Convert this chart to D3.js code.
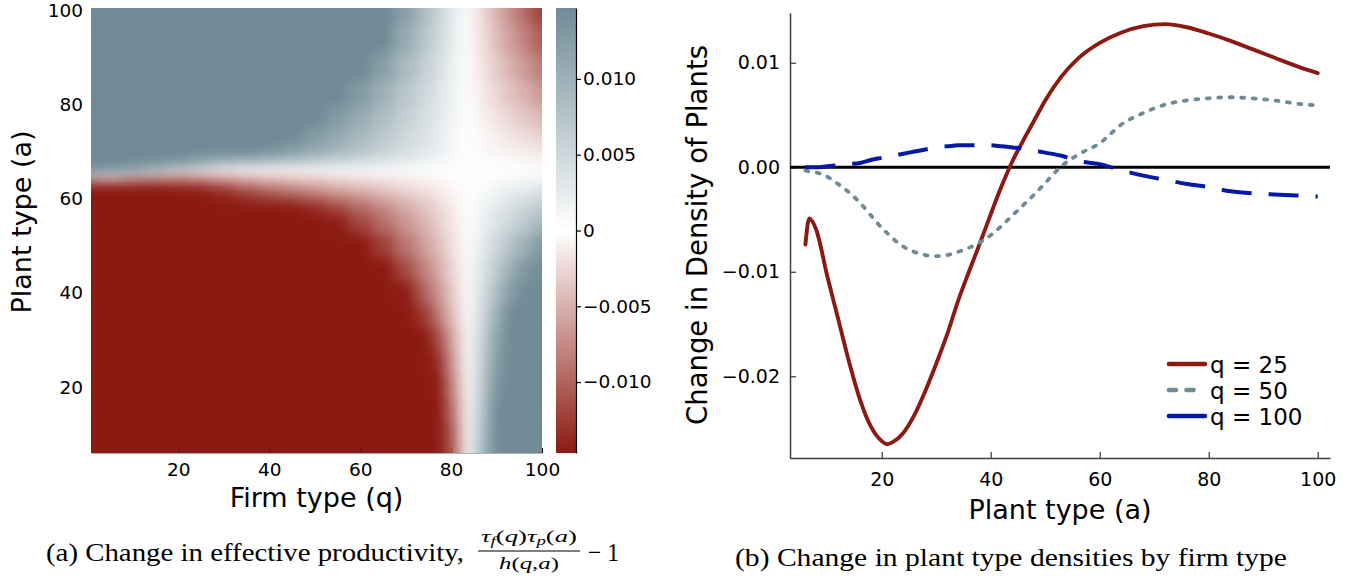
<!DOCTYPE html>
<html><head><meta charset="utf-8">
<script src="https://cdn.jsdelivr.net/npm/d3@7"></script>
<style>body{margin:0;background:#fff}svg{display:block}</style>
</head><body>
<svg id="c" width="1347" height="580"></svg>
<script>
// ---------------- data ----------------
// (a) heatmap: firm type q (columns) x plant type a (rows), values in units of 1e-3
const firmTypes  = [1,5,10,15,20,25,30,35,40,45,50,55,60,65,70,74,77,80,82,83.5,85,87,90,93,96,100];
const plantRows  = [6,10,15,20,25,30,35,40,45,50,55,58,61,63,64.5,66,68,70,73,77,82,88,94,100];
const productivityChange = [
 [-15,-15,-15,-15,-15,-15,-15,-15,-15,-15,-15,-15,-15,-15,-15,-15,-15,-11.7,-5,0,4.1,9.5,15,15,15,15],
 [-15,-15,-15,-15,-15,-15,-15,-15,-15,-15,-15,-15,-15,-15,-15,-15,-15,-11.2,-4.8,0,3.8,8.8,15,15,15,15],
 [-15,-15,-15,-15,-15,-15,-15,-15,-15,-15,-15,-15,-15,-15,-15,-15,-15,-10.1,-4.3,0,3.5,8.1,15,15,15,15],
 [-15,-15,-15,-15,-15,-15,-15,-15,-15,-15,-15,-15,-15,-15,-15,-15,-15,-8.8,-3.8,0,3.2,7.4,13.7,15,15,15],
 [-15,-15,-15,-15,-15,-15,-15,-15,-15,-15,-15,-15,-15,-15,-15,-15,-13.9,-7.5,-3.2,0,2.9,6.8,12.7,15,15,15],
 [-15,-15,-15,-15,-15,-15,-15,-15,-15,-15,-15,-15,-15,-15,-15,-15,-11.9,-6.4,-2.7,0,2.7,6.3,11.7,15,15,15],
 [-15,-15,-15,-15,-15,-15,-15,-15,-15,-15,-15,-15,-15,-15,-15,-12.9,-8.8,-4.8,-2.0,0,2.3,5.4,10.1,14.7,15,15],
 [-15,-15,-15,-15,-15,-15,-15,-15,-15,-15,-15,-15,-15,-15,-14.4,-10.2,-7.0,-3.7,-1.6,0,2.0,4.6,8.5,12.4,15,15],
 [-15,-15,-15,-15,-15,-15,-15,-15,-15,-15,-15,-15,-15,-15,-11.6,-8.1,-5.6,-3.0,-1.3,0,1.6,3.7,6.8,10.0,13.1,15],
 [-15,-15,-15,-15,-15,-15,-15,-15,-15,-15,-15,-15,-15,-12.3,-9.0,-6.3,-4.3,-2.3,-1.0,0,1.2,2.8,5.2,7.6,10.0,13.2],
 [-15,-15,-15,-15,-15,-15,-15,-15,-15,-15,-15,-14.5,-11.9,-9.4,-6.9,-4.8,-3.3,-1.8,-0.8,0,0.8,2.0,3.6,5.3,7.0,9.2],
 [-15,-15,-15,-15,-15,-15,-15,-15,-15,-15,-13.7,-11.7,-9.6,-7.6,-5.5,-3.9,-2.7,-1.4,-0.6,0,0.6,1.5,2.8,4.1,5.4,7.1],
 [-15,-15,-15,-15,-15,-15,-14,-12.6,-11.3,-10.0,-8.7,-7.4,-6.1,-4.8,-3.5,-2.5,-1.7,-0.9,-0.4,0,0.4,0.9,1.8,2.6,3.4,4.5],
 [-15,-15,-15,-14.5,-14,-13,-11,-9,-7.5,-6.5,-5.5,-4.5,-3.6,-2.8,-2.0,-1.4,-1.0,-0.5,-0.2,0,0.2,0.6,1.0,1.5,2.0,2.6],
 [3,0,-3,-4.5,-5.5,-5.5,-5,-4.3,-3.7,-3.2,-2.7,-2.2,-1.8,-1.4,-1.0,-0.7,-0.5,-0.3,-0.1,0,0.1,0.3,0.5,0.8,1.0,1.3],
 [15,15,12,8,5,3,1,0,0,0,0,0,0,0,0,0,0,0,0,0,0,0,0,0,0,0],
 [15,15,15,15,14,12,10.5,9.7,8.7,7.7,6.7,5.7,4.7,3.7,2.7,1.9,1.3,0.7,0.3,0,-0.1,-0.1,-0.3,-0.4,-0.5,-0.7],
 [15,15,15,15,15,15,15,15,13.9,12.3,10.7,9.1,7.5,5.9,4.3,3.0,2.1,1.1,0.5,0,-0.2,-0.4,-0.7,-1.0,-1.3,-1.7],
 [15,15,15,15,15,15,15,15,15,14.6,12.7,10.8,8.9,7.0,5.1,3.6,2.5,1.3,0.6,0,-0.3,-0.6,-1.1,-1.6,-2.1,-2.8],
 [15,15,15,15,15,15,15,15,15,15,15,12.8,10.6,8.3,6.1,4.3,2.9,1.6,0.7,0,-0.4,-1.0,-1.8,-2.7,-3.5,-4.6],
 [15,15,15,15,15,15,15,15,15,15,15,15,12.7,10.0,7.3,5.1,3.5,1.9,0.8,0,-0.6,-1.4,-2.6,-3.8,-5.0,-6.6],
 [15,15,15,15,15,15,15,15,15,15,15,15,15,12.2,8.9,6.3,4.3,2.3,1.0,0,-0.8,-1.8,-3.4,-4.9,-6.5,-8.6],
 [15,15,15,15,15,15,15,15,15,15,15,15,15,14.8,10.8,7.6,5.2,2.8,1.2,0,-1.0,-2.2,-4.2,-6.1,-8.0,-10.6],
 [15,15,15,15,15,15,15,15,15,15,15,15,15,15,12.3,8.6,5.9,3.2,1.4,0,-1.1,-2.6,-4.9,-7.1,-9.4,-12.4]
];
const heatTicks = [20,40,60,80,100];
const colorbarTicks = [-0.010,-0.005,0,0.005,0.010];
const colorLimit = 0.01468;

// (b) density change by plant type
const plantType = [6,6.7,8,10,12,14,16,18,20,21,22,24,26,28,30,32,34,36,38,40,42,44,46,48,50,53,56,60,64,68,72,76,80,84,88,92,96,100];
const densityQ25 = [-0.0074,-0.0049,-0.0060,-0.0104,-0.0145,-0.0186,-0.0222,-0.0248,-0.0262,-0.0265,-0.0263,-0.0254,-0.0237,-0.0214,-0.0188,-0.0160,-0.0128,-0.0100,-0.0073,-0.0045,-0.0018,0.0006,0.0026,0.0045,0.0064,0.0087,0.0104,0.0119,0.0129,0.0135,0.0137,0.0134,0.0128,0.0121,0.0113,0.0105,0.0097,0.0090];
const densityQ50 = [-0.0003,-0.0004,-0.0005,-0.0009,-0.0016,-0.0024,-0.0034,-0.0046,-0.0058,-0.0063,-0.0068,-0.0076,-0.0081,-0.0084,-0.0085,-0.0084,-0.0081,-0.0077,-0.0072,-0.0065,-0.0056,-0.0046,-0.0036,-0.0026,-0.0015,0.0001,0.0012,0.0023,0.0041,0.0052,0.0060,0.0064,0.0066,0.0067,0.0066,0.0064,0.0061,0.0059];
const densityQ100 = [0.0000,0.0000,0.0000,0.0001,0.0002,0.0003,0.0004,0.0007,0.0009,0.0010,0.0011,0.0013,0.0015,0.0017,0.0019,0.0020,0.0021,0.0021,0.0021,0.0021,0.0020,0.0019,0.0018,0.0016,0.0014,0.0011,0.0006,0.0003,-0.0003,-0.0008,-0.0012,-0.0016,-0.0019,-0.0023,-0.0025,-0.0026,-0.0027,-0.0028];
const densityTicksY = [0.01,0,-0.01,-0.02];
const densityTicksX = [20,40,60,80,100];
const seriesLabels = ["q = 25","q = 50","q = 100"];

// ---------------- styles ----------------
const RED = "#8b1a12", SLATE = "#708b96", BLUE = "#0519a5";
const SANS = "DejaVu Sans, Liberation Sans, sans-serif";
const SERIF = "Liberation Serif, DejaVu Serif, serif";

const svg = d3.select("#c");
const defs = svg.append("defs");

// ---------------- (a) heatmap ----------------
const xH = d3.scaleLinear().domain([0.8,100]).range([91,542]);
const yH = d3.scaleLinear().domain([6,100.6]).range([453,8]);
const color = d3.scaleLinear().domain([-colorLimit,0,colorLimit])
  .range(["#8c1a12","#ffffff",SLATE]).clamp(true);

function edges(c, lo, hi){ const e=[lo]; for(let i=1;i<c.length;i++) e.push((c[i-1]+c[i])/2); e.push(hi); return e; }
const qe = edges(firmTypes, xH.domain()[0], xH.domain()[1]);
const ae = edges(plantRows, yH.domain()[0], yH.domain()[1]);

const f = defs.append("filter").attr("id","smooth").attr("filterUnits","userSpaceOnUse")
  .attr("x",91).attr("y",8).attr("width",451).attr("height",445)
  .attr("color-interpolation-filters","sRGB");
f.append("feGaussianBlur").attr("stdDeviation",6.5);
f.append("feComponentTransfer").append("feFuncA").attr("type","table").attr("tableValues","1 1");

const cells = [];
productivityChange.forEach((row,i)=>row.forEach((v,j)=>cells.push({i,j,v:v/1000})));
svg.append("g").attr("filter","url(#smooth)")
  .selectAll("rect").data(cells).join("rect")
  .attr("x",d=>xH(qe[d.j]))
  .attr("width",d=>xH(qe[d.j+1])-xH(qe[d.j])+0.6)
  .attr("y",d=>yH(ae[d.i+1])-0.6)
  .attr("height",d=>yH(ae[d.i])-yH(ae[d.i+1])+0.6)
  .attr("fill",d=>color(d.v))
  .attr("shape-rendering","crispEdges");

// heatmap axes
const gxH = svg.append("g").attr("transform","translate(0,453)")
  .call(d3.axisBottom(xH).tickValues(heatTicks).tickSizeInner(-5).tickSizeOuter(0).tickPadding(10));
gxH.select(".domain").attr("stroke","#b0b0b0").attr("stroke-width",1);
gxH.selectAll(".tick line").attr("stroke",d=>d===100?"#000":"rgba(0,0,0,0.25)");
gxH.selectAll("text").attr("font-family",SANS).attr("font-size",18.5).attr("fill","#000");

const gyH = svg.append("g").attr("transform","translate(91,0)")
  .call(d3.axisLeft(yH).tickValues(heatTicks).tickSize(0).tickPadding(8));
gyH.select(".domain").remove();
gyH.selectAll("text").attr("font-family",SANS).attr("font-size",18.5).attr("fill","#000");

svg.append("text").attr("x",316.5).attr("y",507).attr("text-anchor","middle")
  .attr("font-family",SANS).attr("font-size",27).text("Firm type (q)");
svg.append("text").attr("transform","translate(31,222) rotate(-90)").attr("text-anchor","middle")
  .attr("font-family",SANS).attr("font-size",27).text("Plant type (a)");

// colorbar
const cb = d3.scaleLinear().domain([-colorLimit,colorLimit]).range([453,8]);
const grad = defs.append("linearGradient").attr("id","cbgrad")
  .attr("x1",0).attr("y1",1).attr("x2",0).attr("y2",0);
d3.range(0,1.0001,0.1).forEach(t=>{
  grad.append("stop").attr("offset",t).attr("stop-color",color(-colorLimit+2*colorLimit*t));
});
svg.append("rect").attr("x",556).attr("y",cb.range()[1]).attr("width",20)
  .attr("height",cb.range()[0]-cb.range()[1]).attr("fill","url(#cbgrad)");
const gcb = svg.append("g").attr("transform","translate(576,0)")
  .call(d3.axisRight(cb).tickValues(colorbarTicks).tickSizeInner(5).tickSizeOuter(0).tickPadding(2)
    .tickFormat(d=>d===0?"0":d3.format(".3f")(d)));
gcb.select(".domain").attr("stroke","#000").attr("stroke-width",1.2);
gcb.selectAll(".tick line").attr("stroke","#000").attr("stroke-width",1.2);
gcb.selectAll("text").attr("font-family",SANS).attr("font-size",18.5).attr("fill","#000");

// ---------------- (b) line chart ----------------
const x = d3.scaleLinear().domain([3.17,102.25]).range([790,1330]);
const y = d3.scaleLinear().domain([-0.02782,0.01479]).range([458,12.7]);

const gx = svg.append("g").attr("transform","translate(0,458)")
  .call(d3.axisBottom(x).tickValues(densityTicksX).tickSizeInner(-6).tickSizeOuter(0).tickPadding(15));
const gy = svg.append("g").attr("transform","translate(790,0)")
  .call(d3.axisLeft(y).tickValues(densityTicksY).tickSizeInner(-6).tickSizeOuter(0).tickPadding(10)
    .tickFormat(d3.format(".2f")));
[gx,gy].forEach(g=>{
  g.select(".domain").attr("stroke","#404040").attr("stroke-width",1.5);
  g.selectAll(".tick line").attr("stroke","#404040").attr("stroke-width",1.3);
  g.selectAll("text").attr("font-family",SANS).attr("font-size",19).attr("fill","#000");
});

// zero reference line
svg.append("line").attr("x1",x.range()[0]).attr("x2",x.range()[1])
  .attr("y1",y(0)).attr("y2",y(0)).attr("stroke","#000").attr("stroke-width",3.2);

const line = d3.line().x(d=>x(d[0])).y(d=>y(d[1])).curve(d3.curveMonotoneX);
const series = [
  {vals:densityQ25, color:RED,   w:3.9, dash:null,     cap:"round"},
  {vals:densityQ50, color:SLATE, w:3.8, dash:"3,8.5",  cap:"round"},
  {vals:densityQ100,color:BLUE,  w:4.0, dash:"30,17",  cap:"butt"}
];
series.forEach(s=>{
  svg.append("path").datum(plantType.map((a,i)=>[a,s.vals[i]]))
    .attr("d",line).attr("fill","none").attr("stroke",s.color)
    .attr("stroke-width",s.w).attr("stroke-linecap",s.cap)
    .attr("stroke-dasharray",s.dash);
});

svg.append("text").attr("x",1060).attr("y",519).attr("text-anchor","middle")
  .attr("font-family",SANS).attr("font-size",27).text("Plant type (a)");
svg.append("text").attr("transform","translate(707,235) rotate(-90)").attr("text-anchor","middle")
  .attr("font-family",SANS).attr("font-size",27.5).text("Change in Density of Plants");

// legend
const legY = [364,390,416];
const leg = [
  {color:RED,  x2:1205, dash:null},
  {color:SLATE,x2:1194, dash:"7,10.5"},
  {color:BLUE, x2:1205, dash:null}
];
leg.forEach((l,i)=>{
  svg.append("line").attr("x1",1169).attr("x2",l.x2).attr("y1",legY[i]).attr("y2",legY[i])
    .attr("stroke",l.color).attr("stroke-width",4.6).attr("stroke-linecap","round")
    .attr("stroke-dasharray",l.dash);
  svg.append("text").attr("x",1210).attr("y",legY[i]+8.5)
    .attr("font-family",SANS).attr("font-size",23).text(seriesLabels[i]);
});

// ---------------- captions ----------------
svg.append("text").attr("x",46).attr("y",561).attr("font-family",SERIF).attr("font-size",26)
  .attr("textLength",418).attr("lengthAdjust","spacingAndGlyphs")
  .text("(a) Change in effective productivity,");
const num = svg.append("text").attr("x",529).attr("y",542).attr("text-anchor","middle")
  .attr("font-family",SERIF).attr("font-size",17).attr("textLength",96).attr("lengthAdjust","spacingAndGlyphs");
num.append("tspan").attr("font-style","italic").text("τ");
num.append("tspan").attr("font-style","italic").attr("font-size",12).attr("dy",3).text("f");
num.append("tspan").attr("dy",-3).text("(");
num.append("tspan").attr("font-style","italic").text("q");
num.append("tspan").text(")");
num.append("tspan").attr("font-style","italic").text("τ");
num.append("tspan").attr("font-style","italic").attr("font-size",12).attr("dy",3).text("p");
num.append("tspan").attr("dy",-3).text("(");
num.append("tspan").attr("font-style","italic").text("a");
num.append("tspan").text(")");
svg.append("line").attr("x1",478).attr("x2",580).attr("y1",551).attr("y2",551)
  .attr("stroke","#000").attr("stroke-width",1.1);
const den = svg.append("text").attr("x",529).attr("y",569).attr("text-anchor","middle")
  .attr("font-family",SERIF).attr("font-size",17).attr("textLength",60).attr("lengthAdjust","spacingAndGlyphs");
den.append("tspan").attr("font-style","italic").text("h");
den.append("tspan").text("(");
den.append("tspan").attr("font-style","italic").text("q");
den.append("tspan").text(",");
den.append("tspan").attr("font-style","italic").text("a");
den.append("tspan").text(")");
svg.append("text").attr("x",588).attr("y",561).attr("font-family",SERIF).attr("font-size",26)
  .attr("textLength",31).attr("lengthAdjust","spacingAndGlyphs").text("− 1");

svg.append("text").attr("x",735).attr("y",566).attr("font-family",SERIF).attr("font-size",26)
  .attr("textLength",552).attr("lengthAdjust","spacingAndGlyphs")
  .text("(b) Change in plant type densities by firm type");
</script>
</body></html>
